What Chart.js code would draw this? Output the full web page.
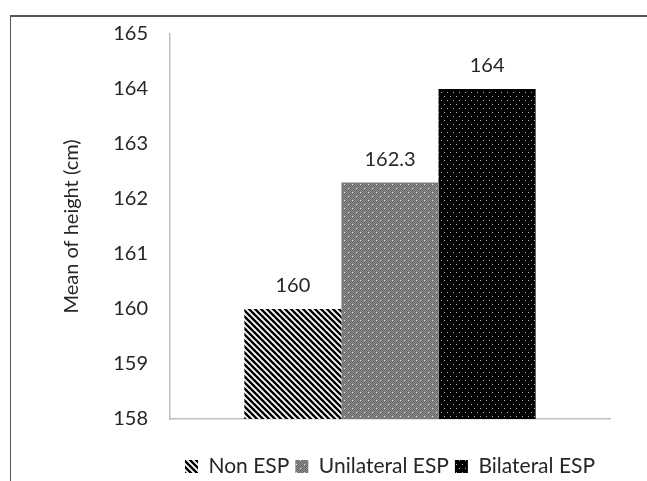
<!DOCTYPE html>
<html>
<head>
<meta charset="utf-8">
<script src="https://cdn.jsdelivr.net/npm/chart.js@4.4.0/dist/chart.umd.min.js"></script>
<style>
  html, body { margin: 0; padding: 0; background: #fff; }
  .wrap { position: relative; width: 647px; height: 481px; }
  .frame { position: absolute; left: 10px; top: 15px; right: 0; bottom: 0;
           border-top: 2px solid #555; border-left: 1px solid #555; }
  canvas { position: absolute; left: 0; top: 0; }
</style>
</head>
<body>
<div class="wrap">
  <div class="frame"></div>
  <canvas id="myChart" width="647" height="481"></canvas>
</div>
<script>
// data
const groups = ['Non ESP', 'Unilateral ESP', 'Bilateral ESP'];
const meanHeight = [160, 162.3, 164];
const yTicks = [158, 159, 160, 161, 162, 163, 164, 165];

const font = 'Lato, "Open Sans", sans-serif';

// fill patterns like the excel ones
function hatchPattern() {
    const c = document.createElement('canvas');
    c.width = 6; c.height = 6;
    const g = c.getContext('2d');
    g.fillStyle = '#fff';
    g.fillRect(0, 0, 6, 6);
    g.strokeStyle = '#000';
    g.lineWidth = 2.4;
    g.beginPath();
    g.moveTo(-3, -3); g.lineTo(9, 9);
    g.moveTo(-3, 3); g.lineTo(3, 9);
    g.moveTo(3, -3); g.lineTo(9, 3);
    g.stroke();
    return g.createPattern(c, 'repeat');
}

function greyDots() {
    const c = document.createElement('canvas');
    c.width = 8; c.height = 8;
    const g = c.getContext('2d');
    g.fillStyle = '#8c8c8c';
    g.fillRect(0, 0, 8, 8);
    g.fillStyle = '#6a6a6a';
    for (let y = 0; y < 8; y++) {
        for (let x = 0; x < 8; x++) {
            if ((x + y) % 2 === 0) g.fillRect(x, y, 1, 1);
        }
    }
    g.fillStyle = '#e6e6e6';
    g.fillRect(0, 0, 1, 1);
    g.fillRect(4, 4, 1, 1);
    return g.createPattern(c, 'repeat');
}

function blackDots() {
    const c = document.createElement('canvas');
    c.width = 6; c.height = 8;
    const g = c.getContext('2d');
    g.fillStyle = '#000';
    g.fillRect(0, 0, 6, 8);
    g.fillStyle = '#b0b0b0';
    g.fillRect(0, 0, 1, 1);
    g.fillRect(3, 4, 1, 1);
    return g.createPattern(c, 'repeat');
}

const fills = [hatchPattern(), greyDots(), blackDots()];

const barLabels = {
    id: 'barLabels',
    afterDatasetsDraw(chart) {
        const ctx = chart.ctx;
        ctx.save();
        ctx.font = '20px ' + font;
        ctx.fillStyle = '#262626';
        ctx.textAlign = 'center';
        ctx.textBaseline = 'middle';
        chart.data.datasets.forEach((ds, i) => {
            const bar = chart.getDatasetMeta(i).data[0];
            ctx.fillText(String(ds.data[0]), bar.x, bar.y - 23);
        });
        ctx.restore();
    }
};

const ctx = document.getElementById('myChart').getContext('2d');
const chart = new Chart(ctx, {
    type: 'bar',
    data: {
        labels: [''],
        datasets: groups.map((name, i) => ({
            label: name,
            data: [meanHeight[i]],
            backgroundColor: fills[i],
            borderWidth: 0,
            barPercentage: 1,
            categoryPercentage: 0.662
        }))
    },
    options: {
        responsive: false,
        animation: false,
        events: [],
        layout: { autoPadding: false, padding: { top: 29, right: 37, left: 0, bottom: -6 } },
        plugins: {
            legend: {
                position: 'bottom',
                fullSize: false,
                labels: {
                    font: { family: font, size: 21 },
                    color: '#262626',
                    boxWidth: 13,
                    boxHeight: 13,
                    padding: 6
                }
            },
            tooltip: { enabled: false }
        },
        scales: {
            x: {
                grid: { display: false, drawTicks: false },
                border: { color: '#bfbfbf', width: 1.5 },
                ticks: { display: false },
                afterFit: s => { s.height = 31; }
            },
            y: {
                min: 158,
                max: 165,
                afterBuildTicks: s => { s.ticks = yTicks.map(v => ({ value: v })); },
                grid: { display: false, drawTicks: false },
                border: { color: '#bfbfbf', width: 1.5 },
                ticks: {
                    font: { family: font, size: 20 },
                    color: '#262626',
                    padding: 22
                },
                title: {
                    display: true,
                    text: 'Mean of height (cm)',
                    font: { family: font, size: 20 },
                    color: '#262626',
                    padding: { top: 60, bottom: 0 }
                },
                afterFit: s => { s.width = 170; }
            }
        }
    },
    plugins: [barLabels]
});
</script>
</body>
</html>
